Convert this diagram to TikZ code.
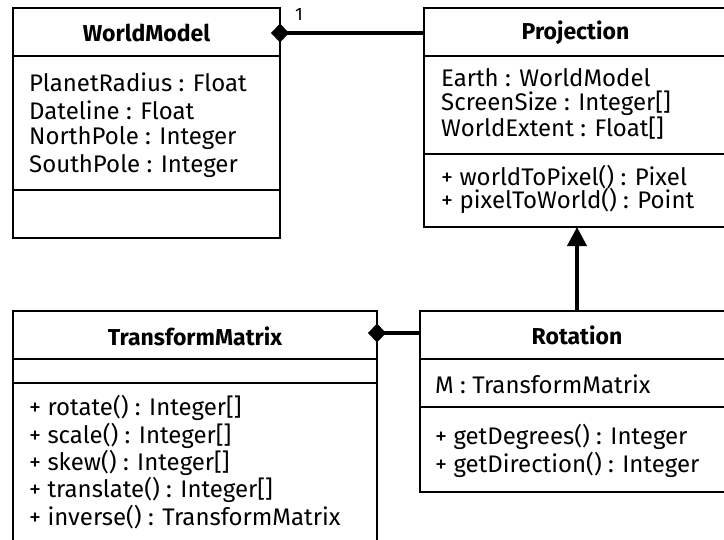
\documentclass[tikz,border=0pt]{standalone}
\usepackage{fontspec}
\setmainfont{Fira Sans}
\usetikzlibrary{arrows.meta}
\begin{document}
\begin{tikzpicture}[x=1pt,y=-1pt,
  classbox/.style={draw=black,line width=2pt,fill=white,rectangle,inner sep=0pt},
  sepline/.style={draw=black,line width=2pt},
  title/.style={font=\fontsize{23}{25}\selectfont\bfseries,inner sep=0pt},
  member/.style={font=\fontsize{24}{26}\selectfont,anchor=west,inner sep=0pt},
  multlabel/.style={font=\fontsize{18}{20}\selectfont,inner sep=0pt},
  compose/.style={line width=3.5pt,-{Diamond[length=18pt,width=19pt]},shorten >=-9pt},
  inherit/.style={line width=4pt,-{Triangle[length=19pt,width=19pt]}}]
\useasboundingbox (0,0) rectangle (724,539);
\begin{scope}
\clip (0,0) rectangle (724,539);

% WorldModel
\node[classbox,minimum width=267pt,minimum height=230pt] (wm) at (146.5,123) {};
\draw[sepline] (13,56) -- (280,56);
\draw[sepline] (13,190) -- (280,190);
\node[title] (wmT) at (146.5,33) {WorldModel};
\node[member] (wm1) at (29,82) {PlanetRadius : Float};
\node[member] (wm2) at (29,110) {Dateline : Float};
\node[member] (wm3) at (29,138) {NorthPole : Integer};
\node[member] (wm4) at (29,166) {SouthPole : Integer};

% Projection
\node[classbox,minimum width=303pt,minimum height=219pt] (pr) at (575.5,117.5) {};
\draw[sepline] (424,56) -- (727,56);
\draw[sepline] (424,154) -- (727,154);
\node[title] (prT) at (575.5,33) {Projection};
\node[member] (pr1) at (441,78) {Earth : WorldModel};
\node[member] (pr2) at (441,103) {ScreenSize : Integer[]};
\node[member] (pr3) at (441,128) {WorldExtent : Float[]};
\node[member] (pr4) at (441,177) {+ worldToPixel() : Pixel};
\node[member] (pr5) at (441,201) {+ pixelToWorld() : Point};

% TransformMatrix
\node[classbox,minimum width=364pt,minimum height=260pt] (tm) at (195,441) {};
\draw[sepline] (13,359) -- (377,359);
\draw[sepline] (13,383) -- (377,383);
\node[title] (tmT) at (195,336) {TransformMatrix};
\node[member] (tm1) at (29,408) {+ rotate() : Integer[]};
\node[member] (tm2) at (29,436) {+ scale() : Integer[]};
\node[member] (tm3) at (29,463) {+ skew() : Integer[]};
\node[member] (tm4) at (29,490) {+ translate() : Integer[]};
\node[member] (tm5) at (29,517) {+ inverse() : TransformMatrix};

% Rotation
\node[classbox,minimum width=307pt,minimum height=181pt] (ro) at (573.5,401.5) {};
\draw[sepline] (420,359) -- (727,359);
\draw[sepline] (420,407) -- (727,407);
\node[title] (roT) at (577,335) {Rotation};
\node[member] (ro1) at (435,384) {M : TransformMatrix};
\node[member] (ro2) at (435,437) {+ getDegrees() : Integer};
\node[member] (ro3) at (435,465) {+ getDirection() : Integer};
\end{scope}

% associations
\coordinate (wmE) at (280,33);
\coordinate (prW) at (424,33);
\draw[compose] (prW) -- (wmE);
\node[multlabel] (mult) at (299,14) {1};

\coordinate (tmE) at (377,333);
\coordinate (roW) at (420,333);
\draw[compose] (roW) -- (tmE);

\coordinate (roN) at (577,311);
\coordinate (prS) at (577,227);
\draw[inherit] (roN) -- (prS);
\end{tikzpicture}
\end{document}
